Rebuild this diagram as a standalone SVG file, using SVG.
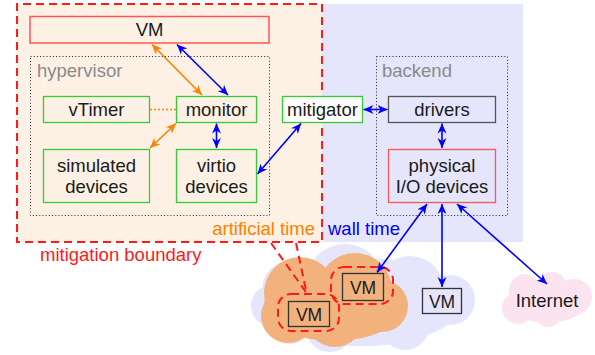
<svg xmlns="http://www.w3.org/2000/svg" width="595" height="355" viewBox="0 0 595 355">
<style>
text{font-family:"Liberation Sans",Arial,sans-serif;font-size:18.5px;fill:#1a1a1a;text-anchor:middle}
.lbl{fill:#8a8a8a;text-anchor:start}
.green{fill:#fdf1e5;stroke:#33cc33;stroke-width:1.3}
.dot{fill:none;stroke:#222;stroke-width:1;stroke-dasharray:1,2.2}
.redd{fill:none;stroke:#ff1a1a;stroke-width:2;stroke-dasharray:8,5}
.blue{stroke:#0000ff;stroke-width:1.6;fill:none;marker-start:url(#hb);marker-end:url(#hb)}
.or{stroke:#ff8000;stroke-width:1.6;fill:none;marker-start:url(#ho);marker-end:url(#ho)}
.vm{stroke:#333;stroke-width:1.3}
</style>
<defs>
<marker id="hb" markerUnits="userSpaceOnUse" markerWidth="11" markerHeight="10" refX="10" refY="4.5" orient="auto-start-reverse" viewBox="0 0 11 9">
<path d="M0,0 L10,4.5 L0,9 L3,4.5 z" fill="#0000ff"/>
</marker>
<marker id="ho" markerUnits="userSpaceOnUse" markerWidth="11" markerHeight="10" refX="10" refY="4.5" orient="auto-start-reverse" viewBox="0 0 11 9">
<path d="M0,0 L10,4.5 L0,9 L3,4.5 z" fill="#ff8000"/>
</marker>
</defs>
<g id="backgrounds">
<rect x="322" y="4" width="201" height="238" fill="#e5e5fb"/>
<rect x="17" y="4" width="305" height="238" fill="#fdf1e5"/>
</g>
<g id="clouds">
<g id="cloud-wall" fill="#e5e5fb">
<ellipse cx="362" cy="302" rx="100" ry="44"/>
<circle cx="345" cy="283" r="39"/>
<circle cx="292" cy="290" r="30"/>
<circle cx="272" cy="306" r="21"/>
<circle cx="410" cy="290" r="34"/>
<circle cx="450" cy="300" r="25"/>
<circle cx="330" cy="328" r="24"/>
<circle cx="405" cy="326" r="24"/>
<circle cx="290" cy="322" r="22"/>
</g>
<g id="cloud-artificial" fill="#f2b27e">
<ellipse cx="334" cy="305" rx="70" ry="36"/>
<circle cx="300" cy="293" r="36"/>
<circle cx="355" cy="290" r="37"/>
<circle cx="382" cy="306" r="26"/>
<circle cx="335" cy="318" r="29"/>
<circle cx="288" cy="316" r="27"/>
</g>
<g id="cloud-internet" fill="#fbe4f0">
<ellipse cx="547" cy="301" rx="40" ry="22"/>
<circle cx="525" cy="290" r="16"/>
<circle cx="552" cy="287" r="15"/>
<circle cx="574" cy="297" r="18"/>
<circle cx="518" cy="308" r="16"/>
<circle cx="548" cy="313" r="14"/>
</g>
</g>
<g id="boundary">
<path class="redd" d="M322,90 L322,4 L17,4 L17,242 L322,242 L322,124"/>
<line class="redd" x1="271" y1="243" x2="308" y2="295"/>
<line class="redd" x1="296" y1="243" x2="307" y2="295"/>
</g>
<g id="hypervisor">
<rect class="dot" x="30.5" y="56.5" width="239" height="159"/>
<text class="lbl" x="37" y="77">hypervisor</text>
</g>
<g id="backend">
<rect class="dot" x="376.5" y="56.5" width="131" height="159"/>
<text class="lbl" x="382" y="77">backend</text>
</g>
<g id="vm-top">
<rect x="30" y="16.5" width="239" height="26.5" fill="#fdf1e5" stroke="#ff5555" stroke-width="1.5"/>
<text x="149.5" y="36">VM</text>
</g>
<g id="vtimer">
<rect class="green" x="43.5" y="96.5" width="106" height="26"/>
<text x="96.5" y="116">vTimer</text>
</g>
<g id="monitor">
<rect class="green" x="176.5" y="96.5" width="80" height="26"/>
<text x="216.5" y="116">monitor</text>
</g>
<g id="simulated">
<rect class="green" x="43.5" y="149.5" width="106" height="53"/>
<text x="96.5" y="172">simulated</text>
<text x="96.5" y="193">devices</text>
</g>
<g id="virtio">
<rect class="green" x="176.5" y="149.5" width="80" height="53"/>
<text x="216.5" y="172">virtio</text>
<text x="216.5" y="193">devices</text>
</g>
<g id="mitigator">
<rect x="282.5" y="96.5" width="80" height="26" fill="#ffffff" stroke="#33cc33" stroke-width="1.3"/>
<text x="322.5" y="116">mitigator</text>
</g>
<g id="drivers">
<rect x="388.5" y="96.5" width="107" height="26" fill="#e5e5fb" stroke="#555" stroke-width="1.3"/>
<text x="442" y="116">drivers</text>
</g>
<g id="physical">
<rect x="388.5" y="149.5" width="107" height="53" fill="#e5e5fb" stroke="#ff5555" stroke-width="1.3"/>
<text x="442" y="172">physical</text>
<text x="442" y="193">I/O devices</text>
</g>
<g id="vm-a">
<rect class="vm" x="342.5" y="273.5" width="41" height="27" fill="#f2b27e"/>
<text x="363" y="294" style="font-size:17.5px">VM</text>
<rect class="redd" x="331" y="267" width="62" height="37" rx="13"/>
</g>
<g id="vm-b">
<rect class="vm" x="288.5" y="301.5" width="41" height="25" fill="#f2b27e"/>
<text x="309" y="320.5" style="font-size:17.5px">VM</text>
<rect class="redd" x="278" y="294" width="61" height="37" rx="13"/>
</g>
<g id="vm-c">
<rect class="vm" x="422.5" y="288.5" width="39" height="25" fill="#e5e5fb"/>
<text x="442" y="307.5" style="font-size:17.5px">VM</text>
</g>
<g id="internet">
<text x="547" y="307">Internet</text>
</g>
<g id="labels">
<text x="315" y="235" style="fill:#ff8000;text-anchor:end">artificial time</text>
<text x="328" y="235" style="fill:#0000ff;text-anchor:start">wall time</text>
<text x="40" y="261" style="fill:#ff1a1a;text-anchor:start">mitigation boundary</text>
</g>
<g id="connectors">
<line class="or" x1="152" y1="44.5" x2="202" y2="95"/>
<line class="blue" x1="177" y1="44.5" x2="228" y2="95"/>
<line x1="150" y1="109.5" x2="176" y2="109.5" stroke="#ff8000" stroke-width="1.6" stroke-dasharray="2,2"/>
<line class="or" x1="150" y1="148" x2="176" y2="123.5"/>
<line class="blue" x1="216.5" y1="123.5" x2="216.5" y2="148"/>
<line class="blue" x1="257.5" y1="174" x2="301" y2="123.5"/>
<line class="blue" x1="363.5" y1="109.5" x2="387.5" y2="109.5"/>
<line class="blue" x1="442" y1="123.5" x2="442" y2="148"/>
<line class="blue" x1="427" y1="204" x2="377" y2="272.5"/>
<line class="blue" x1="442" y1="204" x2="442" y2="287"/>
<line class="blue" x1="457" y1="204" x2="547" y2="284"/>
</g>
</svg>
